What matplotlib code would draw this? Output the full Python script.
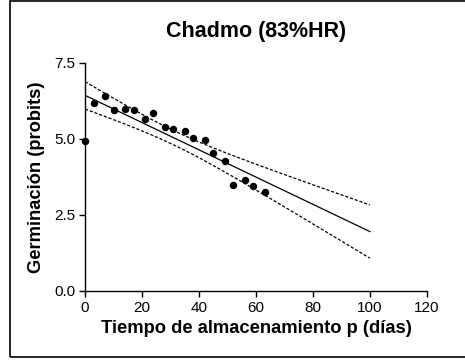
import numpy as np
import matplotlib
matplotlib.use("Agg")
import matplotlib.pyplot as plt
from matplotlib.patches import Rectangle

plt.rcParams['font.family'] = ['Liberation Sans', 'DejaVu Sans']

# Storage time (days) and germination (probits)
dias = [0, 3, 7, 10, 14, 17, 21, 24, 28, 31, 35, 38, 42, 45, 49, 52, 56, 59, 63]
probits = [4.93, 6.19, 6.42, 5.96, 5.99, 5.96, 5.67, 5.84, 5.41, 5.34, 5.26,
           5.03, 4.98, 4.54, 4.28, 3.49, 3.64, 3.44, 3.26]

xticks = [0, 20, 40, 60, 80, 100, 120]
yticks = [0.0, 2.5, 5.0, 7.5]
ytick_labels = ["0.0", "2.5", "5.0", "7.5"]
fit_range = (0, 100)

x = np.array(dias, dtype=float)
y = np.array(probits, dtype=float)

# Linear regression with 95% confidence band of the mean
n = len(x)
b, a = np.polyfit(x, y, 1)
res = y - (a + b * x)
s = np.sqrt(np.sum(res ** 2) / (n - 2))
sxx = np.sum((x - x.mean()) ** 2)
t = 2.11
xx = np.linspace(fit_range[0], fit_range[1], 200)
yy = a + b * xx
half = t * s * np.sqrt(1 / n + (xx - x.mean()) ** 2 / sxx)

fig = plt.figure(figsize=(4.65, 3.6), dpi=100)
ax = fig.add_axes([0.183, 0.192, 0.735, 0.633])

ax.plot(xx, yy, color='black', lw=0.9)
ax.plot(xx, yy + half, color='black', lw=0.9, ls=(0, (2.5, 1.5)))
ax.plot(xx, yy - half, color='black', lw=0.9, ls=(0, (2.5, 1.5)))
ax.scatter(x, y, s=19, color='black', zorder=3, clip_on=False)

ax.set_xlim(0, 120)
ax.set_ylim(0, 7.5)
ax.set_xticks(xticks)
ax.set_yticks(yticks)
ax.set_yticklabels(ytick_labels)
ax.spines['top'].set_visible(False)
ax.spines['right'].set_visible(False)
for sp in ('left', 'bottom'):
    ax.spines[sp].set_linewidth(1.0)
ax.tick_params(direction='out', length=4, width=1, labelsize=11, pad=3)

ax.set_title("Chadmo (83%HR)", fontsize=15.5, fontweight='bold', pad=19)
ax.set_xlabel("Tiempo de almacenamiento p (días)", fontsize=13.2, fontweight='bold', labelpad=4)
ax.set_ylabel("Germinación (probits)", fontsize=13.2, fontweight='bold', labelpad=7)

# Outer frame
fig.patches.append(Rectangle((10 / 465, 3 / 360), 1.0, 356 / 360, transform=fig.transFigure,
                             fill=False, edgecolor='black', lw=1.2))

fig.savefig("out.png", dpi=100)
